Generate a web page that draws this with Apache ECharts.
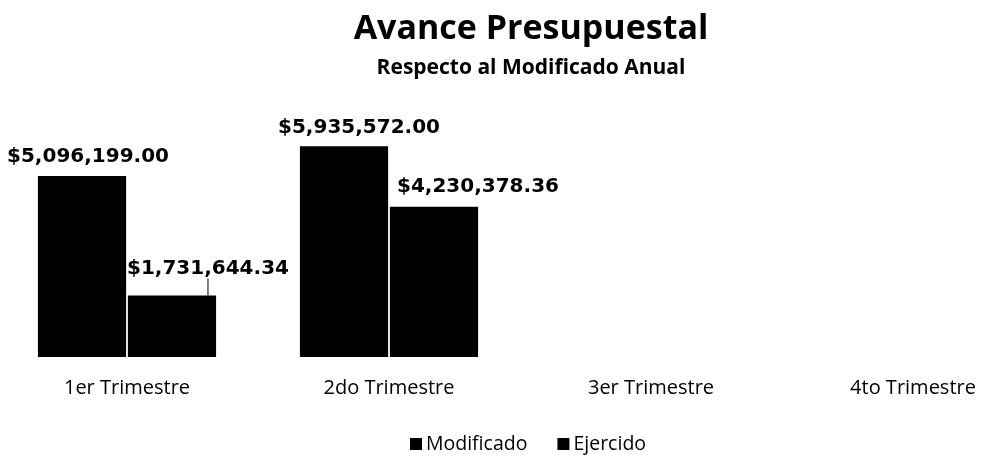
<!DOCTYPE html>
<html>
<head>
<meta charset="utf-8">
<script src="https://cdn.jsdelivr.net/npm/echarts@6/dist/echarts.min.js"></script>
<style>
  html, body { margin: 0; padding: 0; background: #fff; }
  #main { width: 982px; height: 455px; }
</style>
</head>
<body>
<div id="main"></div>
<script>
var categories = ['1er Trimestre', '2do Trimestre', '3er Trimestre', '4to Trimestre'];
var modificado = [5096199.00, 5935572.00, null, null];
var ejercido = [1731644.34, 4230378.36, null, null];
var seriesNames = ['Modificado', 'Ejercido'];

var dom = document.getElementById('main');
var myChart = echarts.init(dom);

function money(v) {
    return '$' + v.toLocaleString('en-US', { minimumFractionDigits: 2, maximumFractionDigits: 2 });
}

var labelFont = {
    show: true,
    position: 'top',
    distance: 7,
    fontFamily: 'DejaVu Sans',
    fontWeight: 'bold',
    fontSize: 20,
    color: '#000',
    formatter: function (p) { return p.value == null ? '' : money(p.value); }
};

// desplazamientos de las etiquetas, como en el original
var modShift = [[6, -2], [15, -2]];
var ejeShift = [[36, -10], [44, -3]];

var option = {
    animation: false,
    title: {
        text: 'Avance Presupuestal',
        subtext: 'Respecto al Modificado Anual',
        left: 526,
        textAlign: 'center',
        top: 7,
        itemGap: 12,
        textStyle: { fontFamily: 'Open Sans', fontWeight: 'bold', fontSize: 34, color: '#000' },
        subtextStyle: { fontFamily: 'Open Sans', fontWeight: 'bold', fontSize: 21, color: '#000' }
    },
    legend: {
        top: 429,
        left: 405,
        icon: 'rect',
        itemWidth: 12,
        itemHeight: 12,
        itemGap: 30,
        textStyle: { fontFamily: 'Open Sans', fontSize: 19.5, color: '#000', padding: [0, 0, 0, -1] },
        data: seriesNames
    },
    grid: { left: -4, width: 1048, top: 100, height: 257, outerBoundsMode: 'none' },
    xAxis: {
        type: 'category',
        data: categories,
        axisLine: { show: false },
        axisTick: { show: false },
        axisLabel: { margin: 21, fontFamily: 'Open Sans', fontSize: 20, color: '#000' }
    },
    yAxis: {
        type: 'value',
        min: 0,
        max: 7240000,
        show: false,
        splitLine: { show: false }
    },
    series: [
        {
            name: seriesNames[0],
            type: 'bar',
            barCategoryGap: '32%',
            barGap: '2%',
            itemStyle: { color: '#000' },
            data: modificado,
            label: labelFont,
            labelLayout: function (params) {
                var s = modShift[params.dataIndex] || [0, 0];
                return { dx: s[0], dy: s[1] };
            }
        },
        {
            name: seriesNames[1],
            type: 'bar',
            barCategoryGap: '32%',
            barGap: '2%',
            itemStyle: { color: '#000' },
            data: ejercido.map(function (v, i) {
                return { value: v, labelLine: { show: i === 0 } };
            }),
            label: labelFont,
            labelLayout: function (params) {
                var s = ejeShift[params.dataIndex] || [0, 0];
                return { dx: s[0], dy: s[1] };
            },
            labelLine: { show: false, lineStyle: { color: '#000', width: 1 } }
        }
    ]
};

myChart.setOption(option);
</script>
</body>
</html>
